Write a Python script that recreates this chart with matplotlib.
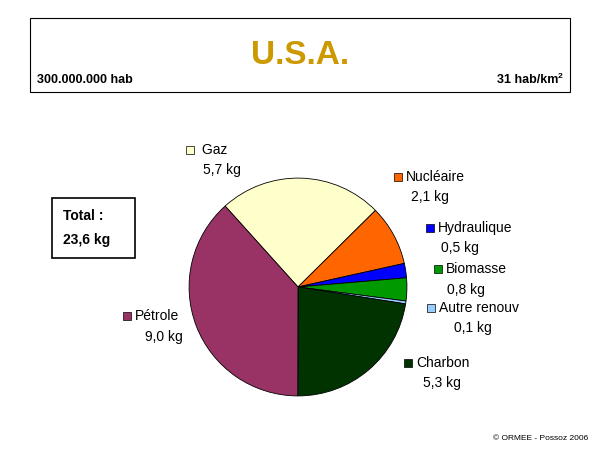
import matplotlib.pyplot as plt
from matplotlib.patches import Rectangle

plt.rcParams['font.family'] = ['Liberation Sans', 'DejaVu Sans']

names = ['Gaz', 'Nucléaire', 'Hydraulique', 'Biomasse', 'Autre renouv', 'Charbon', 'Pétrole']
values = [5.7, 2.1, 0.5, 0.8, 0.1, 5.3, 9.0]
value_labels = ['5,7 kg', '2,1 kg', '0,5 kg', '0,8 kg', '0,1 kg', '5,3 kg', '9,0 kg']
colors = ['#FFFFCC', '#FF6600', '#0000FF', '#009900', '#99CCFF', '#003300', '#993366']

W, H = 600, 450
fig = plt.figure(figsize=(6, 4.5), dpi=100)

def fx(x):
    return x / W

def fy(y):
    return 1 - y / H

# header box
fig.patches.append(Rectangle((fx(30), fy(92)), fx(540), 74 / H, transform=fig.transFigure,
                             fill=False, edgecolor='black', linewidth=0.8))
fig.text(fx(300), fy(55), 'U.S.A.', color='#CC9900', fontsize=24, fontweight='bold',
         ha='center', va='center')
fig.text(fx(37), fy(80), '300.000.000 hab', fontsize=9, fontweight='bold', va='center')
fig.text(fx(558), fy(80), '31 hab/km', fontsize=9, fontweight='bold', va='center', ha='right')
fig.text(fx(558), fy(76), '2', fontsize=6, fontweight='bold', va='center', ha='left')

# total box
fig.patches.append(Rectangle((fx(52), fy(258)), fx(83), 60 / H, transform=fig.transFigure,
                             fill=False, edgecolor='black', linewidth=1.2))
fig.text(fx(63), fy(216), 'Total :', fontsize=10, fontweight='bold', va='center')
fig.text(fx(63), fy(240), '23,6 kg', fontsize=10, fontweight='bold', va='center')

ax = fig.add_axes([fx(188), fy(397), 220 / W, 220 / H])
ax.pie(values, colors=colors, startangle=132, counterclock=False,
       wedgeprops=dict(edgecolor='black', linewidth=0.6))
ax.set_xlim(-1.01, 1.01)
ax.set_ylim(-1.01, 1.01)
ax.set_aspect('equal')

# labels: (square x, y name, value x, y value)
label_pos = [(190, 150, 222, 170), (398, 177, 430, 197), (430, 228, 460, 248),
             (438, 269, 466, 290), (431, 308, 473, 328), (408, 363, 442, 383),
             (127, 316, 164, 337)]
for name, vl, c, (sx, sy, vx, vy) in zip(names, value_labels, colors, label_pos):
    fig.patches.append(Rectangle((fx(sx - 4), fy(sy + 4)), 8 / W, 8 / H, transform=fig.transFigure,
                                 facecolor=c, edgecolor='black', linewidth=0.5))
    fig.text(fx(sx + 8), fy(sy), ' ' + name if name == 'Gaz' else name,
             fontsize=10, va='center')
    fig.text(fx(vx), fy(vy), vl, fontsize=10, va='center', ha='center')

fig.text(fx(588), fy(438), '© ORMEE - Possoz 2006', fontsize=6, ha='right', va='center')

fig.savefig('out.png', dpi=100)
